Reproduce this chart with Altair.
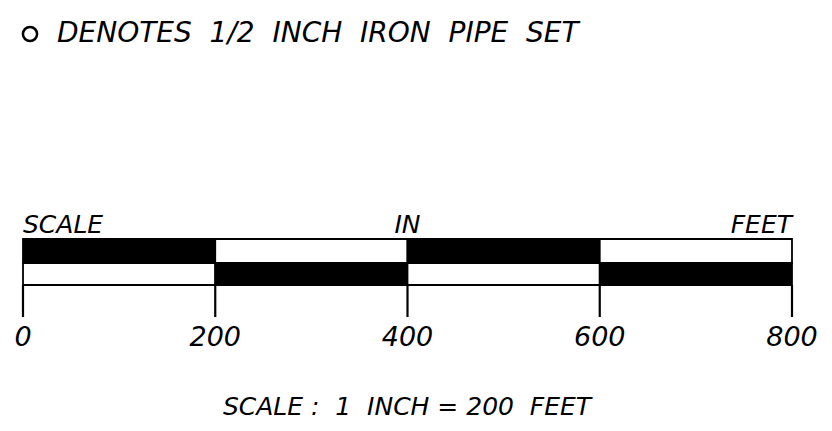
import altair as alt
import pandas as pd

# Scale bar data (feet)
seg_start = [0, 200, 400, 600]
seg_end = [200, 400, 600, 800]
top_fill = ["black", "white", "black", "white"]
bottom_fill = ["white", "black", "white", "black"]
tick_values = [0, 200, 400, 600, 800]
tick_labels = ["0", "200", "400", "600", "800"]

legend_text = "DENOTES\u00a0 1/2\u00a0 INCH\u00a0 IRON\u00a0 PIPE\u00a0 SET"
caption_text = "SCALE :\u00a0 1\u00a0 INCH = 200\u00a0 FEET"

FONT = "DejaVu Sans"

segs = pd.DataFrame({"start": seg_start, "end": seg_end,
                     "top": top_fill, "bottom": bottom_fill})
ticks = pd.DataFrame({"v": tick_values, "label": tick_labels})
heads = pd.DataFrame({"v": [0, 400, 800], "label": ["SCALE", "IN", "FEET"],
                      "al": ["left", "center", "right"]})

xs = alt.Scale(domain=[-15.6, 833.3], nice=False, zero=False)
X = lambda f: alt.X(f, type="quantitative", scale=xs, axis=None)

top_row = alt.Chart(segs).mark_rect(stroke="black", strokeWidth=1.8).encode(
    x=X("start"), x2="end", y=alt.value(231), y2=alt.value(255),
    fill=alt.Fill("top:N", scale=None))
bottom_row = alt.Chart(segs).mark_rect(stroke="black", strokeWidth=1.8).encode(
    x=X("start"), x2="end", y=alt.value(255), y2=alt.value(277),
    fill=alt.Fill("bottom:N", scale=None))
tick_rules = alt.Chart(ticks).mark_rule(color="black", strokeWidth=2.2).encode(
    x=X("v"), y=alt.value(277), y2=alt.value(309))
tick_text = alt.Chart(ticks).mark_text(
    font=FONT, fontSize=27, fontStyle="italic", baseline="middle", align="center",
    color="black").encode(x=X("v"), y=alt.value(330), text="label")

head_left = alt.Chart(heads[heads.al == "left"]).mark_text(
    font=FONT, fontSize=25, fontStyle="italic", baseline="alphabetic", align="left",
    color="black").encode(x=X("v"), y=alt.value(225), text="label")
head_mid = alt.Chart(heads[heads.al == "center"]).mark_text(
    font=FONT, fontSize=25, fontStyle="italic", baseline="alphabetic", align="center",
    color="black").encode(x=X("v"), y=alt.value(225), text="label")
head_right = alt.Chart(heads[heads.al == "right"]).mark_text(
    font=FONT, fontSize=25, fontStyle="italic", baseline="alphabetic", align="right",
    color="black").encode(x=X("v"), y=alt.value(225), text="label")

circle = alt.Chart(pd.DataFrame({"a": [0]})).mark_point(
    shape="circle", filled=False, stroke="black", strokeWidth=2.5, size=200,
    opacity=1).encode(x=alt.value(22), y=alt.value(26))
legend = alt.Chart(pd.DataFrame({"t": [legend_text]})).mark_text(
    font=FONT, fontSize=28, fontStyle="italic", baseline="middle", align="left",
    color="black").encode(x=alt.value(49), y=alt.value(26), text="t")
caption = alt.Chart(pd.DataFrame({"t": [caption_text]})).mark_text(
    font=FONT, fontSize=25, fontStyle="italic", baseline="middle", align="center",
    color="black").encode(x=alt.value(399), y=alt.value(399), text="t")

chart = alt.layer(top_row, bottom_row, tick_rules, tick_text, head_left, head_mid,
                  head_right, circle, legend, caption).properties(
    width=816, height=415, padding=0, background="white",
    autosize=alt.AutoSizeParams(type="none")
).configure_view(stroke=None)

chart.save("out.html", embed_options={"renderer": "svg", "actions": False})
